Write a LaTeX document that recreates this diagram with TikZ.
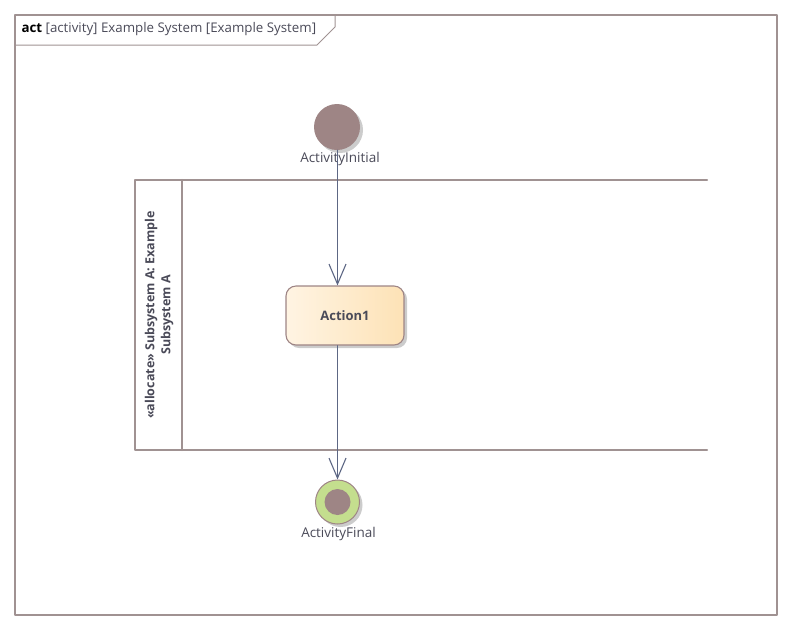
\documentclass[tikz,border=0pt]{standalone}
\usepackage{fontspec}
\setmainfont{Open Sans}
\usepackage{xcolor}
\usetikzlibrary{arrows.meta,shadows}
\definecolor{framecol}{HTML}{A09292}
\definecolor{nodecol}{HTML}{9E8585}
\definecolor{flowcol}{HTML}{5D6784}
\definecolor{finalcol}{HTML}{C4DE8E}
\definecolor{actleft}{HTML}{FFF4E3}
\definecolor{actright}{HTML}{FDE2B6}
\definecolor{txtcol}{HTML}{4A4A58}

\begin{document}
\begin{tikzpicture}[x=1pt,y=-1pt,line cap=round,line join=round,
	shade/.style={drop shadow={shadow xshift=3pt,shadow yshift=-3pt,fill=black!20,opacity=1}},
	initnode/.style={circle,fill=nodecol,minimum size=46pt,inner sep=0pt,shade},
	finalnode/.style={circle,draw=nodecol,line width=1pt,fill=finalcol,minimum size=44pt,inner sep=0pt,shade},
	actnode/.style={rounded corners=10pt,draw=nodecol,line width=1.1pt,left color=actleft,right color=actright,
		minimum width=118pt,minimum height=59pt,shade,font=\fontsize{13}{15}\selectfont\bfseries,text=txtcol},
	lbl/.style={font=\fontsize{13.5}{16}\selectfont,text=txtcol},
	flow/.style={draw=flowcol,line width=1.1pt,-{Straight Barb[length=20pt,width=17pt,line width=1.1pt]}}]
	\useasboundingbox (0,0) rectangle (791,630);
	% frame
	\draw [framecol,line width=2.2pt] (15,15) rectangle (777,615);
	\draw [framecol,line width=1pt] (15,45)-- (317,45)-- (335,27)-- (335,15);
	\node [anchor=west,font=\fontsize{13.3}{16}\selectfont,text=txtcol] (title) at (18,29.5) {\textbf{\color{black}act} [activity] Example System [Example System]};
	% partition
	\draw [framecol,line width=2.2pt] (707,180)-- (135,180)-- (135,450)-- (707,450);
	\draw [framecol,line width=2.2pt] (182,180)-- (182,450);
	\node [rotate=90,align=center,font=\fontsize{12.5}{16}\selectfont\bfseries,text=txtcol] (part) at (159,315) {«allocate» Subsystem A: Example\\Subsystem A};
	% nodes
	\node [initnode] (initial) at (337,127) {};
	\node [lbl] (initlbl) at (340,158.5) {ActivityInitial};
	\node [actnode] (action) at (345,315.5) {Action1};
	\node [finalnode] (final) at (337.5,502) {};
	\fill [nodecol] (final.center) circle (13pt);
	\node [lbl] (finallbl) at (338.5,534) {ActivityFinal};
	% flows
	\draw [flow] (initial.south -| 337.5,0)-- (action.north -| 337.5,0);
	\draw [flow] (action.south -| 337.5,0)-- (final.north);
\end{tikzpicture}
\end{document}
